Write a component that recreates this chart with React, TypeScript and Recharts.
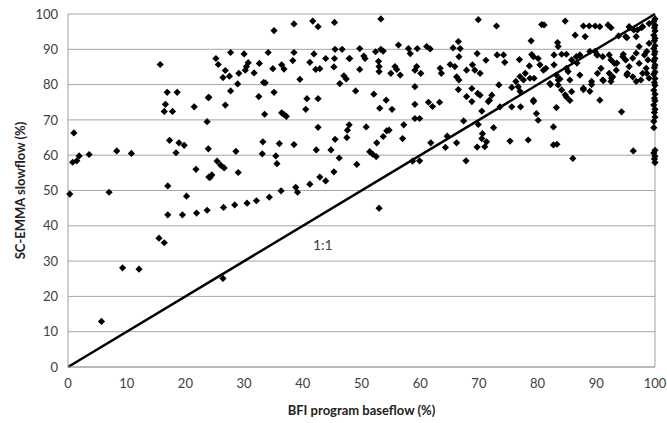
import {
  ScatterChart,
  Scatter,
  XAxis,
  YAxis,
  CartesianGrid,
  ReferenceLine,
  ReferenceDot,
} from "recharts";

// [BFI baseflow %, SC-EMMA slowflow %] per catchment, grouped by BFI range
const lowBfiSites: [number, number][] = [
  [0.3, 49], [0.8, 58], [1.5, 58.4], [1.9, 59.8], [3.6, 60.2], [1, 66.3],
  [7, 49.5], [8.3, 61.2], [10.8, 60.5], [15.7, 85.7], [16.9, 77.8], [18.6, 77.8],
  [16.6, 74.4], [16.4, 72.4], [17.8, 72.4], [21.5, 73.7], [23.9, 76.3], [23.7, 69.5],
  [17.3, 64.2], [18.9, 63.5], [19.8, 62.8], [18.4, 60.7], [23.9, 61.8], [21.8, 56],
  [24, 53.8], [17, 51.3], [20.2, 48.4], [17, 43.1], [19.5, 43.1], [21.9, 43.6],
  [23.7, 44.4], [15.5, 36.5], [16.4, 35.2], [9.3, 28.1], [12.1, 27.7], [5.7, 12.9],
];

const midLowBfiSites: [number, number][] = [
  [26.5, 45.2], [28.4, 45.9], [30.5, 46.4], [32.1, 47.1], [34.3, 48.1], [36.3, 49.9],
  [38.8, 50.9], [39.1, 49.5], [41.2, 51.8], [43.9, 52.7], [42.9, 53.8], [26.4, 25.1],
  [35.1, 95.3], [38.5, 97.2], [41.7, 98], [42.6, 96.4], [45.4, 97.6],
  [27.7, 89.1], [30, 88.7], [34.1, 89.1], [38.5, 89.1], [41.9, 88.7], [45.5, 90], [46.7, 90],
  [25.2, 87.4], [25.6, 85.7], [26.8, 84], [26.4, 82], [27.5, 82.4], [29.1, 83.2],
  [30.4, 85.1], [30.7, 86.2], [30.2, 84.1], [31.7, 83.3], [32.6, 86], [34.9, 84.5],
  [36.4, 85.6], [36.8, 84.4], [38.3, 86.8], [39.5, 81.5], [41.2, 86.3], [42.2, 84.3],
  [42.9, 84.5], [43.9, 87.4], [45.4, 87.4], [45.3, 85], [46.3, 80.3], [47, 82.5],
  [47.4, 81.6], [47.9, 87.4], [28.9, 80.2], [27.7, 78.2], [33.3, 80.6], [33.6, 80.5],
  [24, 76.4], [26.8, 74.2], [32.5, 76.6], [35.1, 77.8], [40.7, 76], [42.6, 76],
  [40.5, 73], [33.5, 71.6], [36.4, 72], [36.8, 71.5], [37.2, 71], [42.6, 67.9],
  [47.9, 68.6], [47.6, 67.1], [47.5, 65], [45.5, 64.5], [33.2, 63.8], [36, 63.3],
  [38.5, 63], [28.6, 61.1], [33.1, 60.4], [35.4, 59.8], [35.6, 57.6], [42.3, 61.5],
  [44.8, 61.5], [46.2, 59.2], [45.3, 55.3], [25.4, 58.3], [26, 57.2], [26.6, 56.4],
  [24.5, 54.4], [24.2, 53.7], [29, 55.1],
];

const midHighBfiSites: [number, number][] = [
  [53, 45], [53.3, 98.6], [69.9, 98.4],
  [49.7, 90.2], [52.4, 89.3], [53.3, 90], [53.7, 89.5], [56.3, 91.2], [58, 90.2],
  [58.3, 88.8], [59.5, 90.2], [61.1, 90.8], [61.7, 90.1], [65.6, 90.4], [66.5, 92.2],
  [66.8, 90.2], [66.6, 87.9], [69.7, 88.8], [71.2, 86.9], [48, 87.4], [50.4, 88.1],
  [50.6, 87.4], [49.7, 84.3], [52.9, 86.6], [53, 85.1], [53, 83.7], [55, 83.2],
  [55.7, 85.1], [56, 84.3], [56.6, 82.7], [59.1, 84.1], [59.4, 85.1], [60.1, 83.2],
  [63.4, 84.6], [63.6, 83.2], [65.1, 85.7], [65.9, 85.1], [66.2, 82.2], [66.6, 81.3],
  [67.9, 84.1], [68.9, 85.6], [69.3, 84.1], [70.2, 83.2], [49, 78.2], [52.1, 77.3],
  [54.2, 75.6], [53.1, 73.3], [55.2, 73], [59.1, 79.4], [59.1, 74.4], [61.4, 75],
  [62.1, 73.8], [63.3, 75], [66.5, 78.6], [67.9, 76.6], [68.8, 75.2], [68.8, 78.9],
  [69.8, 77.5], [70.5, 72.5], [71.6, 75.2], [59.1, 70.4], [59.9, 70.4], [67.4, 69.7],
  [50.8, 68], [57.2, 68.6], [54.3, 66.9], [53.7, 65.3], [54.7, 67.1], [57, 64.7],
  [52.6, 63.5], [61.8, 63.5], [64.6, 65.4], [64.3, 62.2], [66.2, 63.5], [69.9, 68.7],
  [70.6, 66.1], [70.5, 64.7], [71.3, 63.8], [71, 62.4], [69.7, 62.3], [51.4, 61],
  [51.9, 60.3], [52.5, 59.6], [49.2, 57.4], [58.7, 58.3], [59.9, 58.4], [67.8, 58.4],
];

const highBfiSites: [number, number][] = [
  [73, 96.6], [80.7, 97], [81.1, 96.9], [84.7, 98], [87.8, 96.6], [88.8, 96.6],
  [89.8, 96.6], [90.6, 96.4], [92, 96.9], [92.5, 96.1], [86.4, 94], [88.1, 93.6],
  [93.8, 93.8], [95.2, 93.3], [95.7, 96.1], [96.4, 95.5], [97.7, 96.1], [78.9, 92.4],
  [83.4, 91.9], [83.5, 90.8], [73.1, 88.4], [74.2, 88.4], [74.4, 86.3], [76.9, 87.1],
  [79, 88.5], [79.3, 87.9], [80.1, 87.4], [78.6, 85.3], [80.4, 85.6], [81, 84.1],
  [81.4, 84.6], [82.8, 88.4], [84.1, 88.6], [84.9, 88.6], [82.8, 85.6], [86.7, 86.1],
  [87.2, 82.7], [88.9, 89.4], [89.8, 89.4], [90.1, 88.4], [85.8, 87], [86.6, 87.9],
  [87.2, 88.4], [84.9, 84.6], [85.2, 83.7], [83.2, 82.7], [83.5, 81.3], [82.1, 80.3],
  [85.5, 81.3], [89.2, 80.9], [89.2, 80], [87.8, 78.6], [85.8, 78], [84.7, 77.1],
  [84.9, 76.5], [85.5, 75.5], [84.1, 78.5], [79.3, 75.6], [83.2, 73.5], [79.8, 71.8],
  [80.1, 69.9], [82.7, 68], [76.3, 80.9], [77, 82.3], [77.9, 83.2], [77.6, 81.3],
  [76.7, 79.4], [75.6, 79.2], [77, 78.1], [73.4, 79.9], [78.7, 81.8], [79.4, 81.8],
  [82.2, 80], [83.5, 79.9], [83.8, 81.6], [87.8, 79], [88.9, 78.1], [90.6, 75.6],
  [70.2, 77], [71.8, 75.6], [72.2, 77], [75.6, 73.7], [77.1, 73.7], [79.3, 75.2],
  [73.6, 73.7], [94.3, 72.3], [72.5, 67.8], [75.3, 64], [78.4, 64.3], [82.7, 62.9],
  [83.3, 63.1], [86, 59.1], [96.3, 61.2],
  [95.6, 96.4], [97, 95.5], [97.9, 96.4], [95, 93.6], [96.8, 93.6], [99, 97.3], [99, 91.7],
  [90.2, 88.4], [91.1, 87.9], [92.2, 88.4], [92.5, 87], [93.1, 86], [93.4, 84.1],
  [92.8, 82.2], [92.2, 83.2], [90.8, 84.6], [90.2, 83.2], [91.1, 81.3], [92.5, 80.9],
  [94.5, 87.9], [95, 87], [95.6, 85.1], [96.2, 87.5], [96.8, 88.9], [95.3, 83.2],
  [96.2, 82.2], [96.8, 80.9], [97.6, 81.3], [97.9, 83.2], [98.5, 84.6], [98.8, 87],
  [98.2, 88.4], [99, 81.8], [97.3, 86], [97.3, 90.8], [91.2, 81.1], [92.6, 81.8],
  [95.2, 82.7], [98.6, 83.2], [98.6, 89.4], [93.5, 86.1], [94.6, 88.6],
];

// catchments where BFI puts baseflow at (or almost at) 100 %
const fullBfiSites: [number, number][] = [
  [100, 98.6], [99.8, 97.9], [100, 96.8], [99.9, 96.1], [100, 95.2], [99.8, 94],
  [100, 93.1], [99.9, 92.4], [100, 91], [99.8, 90.2], [100, 89.3], [99.9, 88.6],
  [100, 87.4], [99.8, 86.7], [100, 85.5], [99.9, 84.8], [100, 83.6], [99.8, 82.9],
  [100, 81.7], [99.9, 80.6], [100, 79.8], [99.8, 78.4], [100, 77.3], [99.9, 76.1],
  [100, 75.4], [99.8, 74.2], [100, 73], [99.9, 72.1], [100, 70.8], [99.8, 69.6],
  [99.8, 67.8], [100, 61.4], [99.8, 60.6], [100, 59.7], [99.9, 58.9], [100, 57.9],
];

const axisTicks = [0, 10, 20, 30, 40, 50, 60, 70, 80, 90, 100];

const sites = [
  ...lowBfiSites,
  ...midLowBfiSites,
  ...midHighBfiSites,
  ...highBfiSites,
  ...fullBfiSites,
].map(([x, y]) => ({ x, y }));

const Diamond = (props: any) => {
  const { cx, cy } = props;
  const r = 3.6;
  return (
    <path
      d={`M${cx},${cy - r}L${cx + r},${cy}L${cx},${cy + r}L${cx - r},${cy}Z`}
      fill="#000"
    />
  );
};

const YTitle = (props: any) => {
  const { viewBox } = props;
  const x = viewBox.x + 12;
  const y = viewBox.y + viewBox.height / 2;
  return (
    <text
      x={x}
      y={y}
      transform={`rotate(-90, ${x}, ${y})`}
      textAnchor="middle"
      dominantBaseline="central"
      fontWeight="bold"
      fontSize={13}
      fill="#222"
    >
      SC-EMMA slowflow (%)
    </text>
  );
};

export default function App() {
  return (
    <div style={{ fontFamily: "Lato, sans-serif" }}>
      {/* chart fills the whole page, so drop the default body margin */}
      <style>{`body { margin: 0; }`}</style>
      <ScatterChart
        width={667}
        height={423}
        margin={{ top: 14, right: 12, bottom: 6, left: 8 }}
      >
        <CartesianGrid vertical={false} stroke="#a6a6a6" />
        <XAxis
          type="number"
          dataKey="x"
          domain={[0, 100]}
          ticks={axisTicks}
          height={50}
          axisLine={{ stroke: "#a0a0a0" }}
          tickLine={false}
          tickSize={0}
          tickMargin={12}
          tick={{ fill: "#404040", fontSize: 13 }}
          label={{
            value: "BFI program baseflow (%)",
            position: "insideBottom",
            offset: 2,
            fontWeight: "bold",
            fontSize: 13,
            fill: "#222",
          }}
        />
        <YAxis
          type="number"
          dataKey="y"
          domain={[0, 100]}
          ticks={axisTicks}
          width={60}
          axisLine={{ stroke: "#a0a0a0" }}
          tickLine={false}
          tickSize={0}
          tickMargin={10}
          tick={{ fill: "#404040", fontSize: 13 }}
          label={YTitle}
        />
        <ReferenceLine x={100} stroke="#a0a0a0" />
        <Scatter
          data={sites}
          shape={Diamond}
          fill="#000"
          isAnimationActive={false}
        />
        <ReferenceLine
          segment={[
            { x: 0, y: 0 },
            { x: 100, y: 100 },
          ]}
          stroke="#000"
          strokeWidth={2.5}
          ifOverflow="visible"
        />
        <ReferenceDot
          x={43.4}
          y={34.6}
          r={1}
          fill="none"
          stroke="none"
          label={{ value: "1:1", position: "center", fontSize: 14, fill: "#404040" }}
        />
      </ScatterChart>
    </div>
  );
}
